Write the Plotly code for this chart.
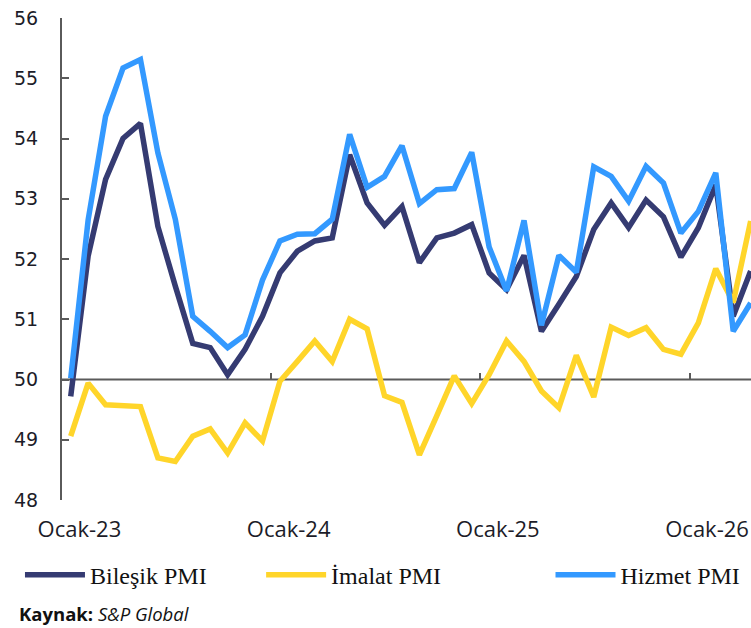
import plotly.graph_objects as go

tr_months = ["Ocak", "Şubat", "Mart", "Nisan", "Mayıs", "Haziran", "Temmuz",
             "Ağustos", "Eylül", "Ekim", "Kasım", "Aralık"]
months = [f"{tr_months[i % 12]}-{23 + i // 12}" for i in range(40)]

bilesik = [49.72, 52.05, 53.32, 54.00, 54.25, 52.54, 51.55, 50.60, 50.53, 50.08,
           50.50, 51.05, 51.77, 52.13, 52.30, 52.35, 53.73, 52.93, 52.56, 52.87,
           51.94, 52.35, 52.43, 52.57, 51.77, 51.49, 52.06, 50.80, 51.25, 51.71,
           52.49, 52.93, 52.52, 52.98, 52.70, 52.03, 52.52, 53.23, 51.05, 51.80]
imalat = [49.06, 49.94, 49.58, 49.57, 49.55, 48.70, 48.64, 49.06, 49.18, 48.78,
          49.28, 48.98, 49.97, 50.30, 50.64, 50.30, 51.00, 50.84, 49.73, 49.62,
          48.75, 49.40, 50.06, 49.60, 50.08, 50.64, 50.30, 49.81, 49.53, 50.40,
          49.71, 50.87, 50.73, 50.86, 50.50, 50.42, 50.94, 51.84, 51.28, 52.63]
hizmet = [50.02, 52.65, 54.37, 55.17, 55.31, 53.76, 52.66, 51.05, 50.80, 50.53,
          50.74, 51.65, 52.30, 52.41, 52.42, 52.66, 54.07, 53.19, 53.37, 53.88,
          52.92, 53.15, 53.17, 53.77, 52.20, 51.47, 52.64, 50.90, 52.06, 51.78,
          53.53, 53.37, 52.96, 53.54, 53.26, 52.43, 52.79, 53.43, 50.80, 51.27]

series_names = ["Bileşik PMI", "İmalat PMI", "Hizmet PMI"]
colors = ["#353B72", "#FFD52A", "#3399FF"]
y_ticks = [48, 49, 50, 51, 52, 53, 54, 55, 56]
ref_level = 50

x = list(range(len(months)))
ocak_idx = [i for i, m in enumerate(months) if m.startswith("Ocak")]

fig = go.Figure()
legends = ["legend", "legend2", "legend3"]
xaxes = ["x", "x", "x2"]
for name, vals, col, lg, xa in zip(series_names, [bilesik, imalat, hizmet], colors, legends, xaxes):
    fig.add_trace(go.Scatter(x=x, y=vals, name=name, mode="lines",
                             line=dict(color=col, width=5.5),
                             legend=lg, xaxis=xa, hoverinfo="skip"))

xr = [-0.5, len(months) - 0.98]
axis_col = "#5a5a5a"
fig.update_layout(
    width=751, height=628,
    margin=dict(l=62, r=0, t=18, b=128, autoexpand=False),
    paper_bgcolor="white", plot_bgcolor="white",
    xaxis=dict(range=xr, showgrid=False, zeroline=False, showline=False,
               automargin=False,
               tickvals=[i + 0.5 for i in ocak_idx],
               ticktext=[months[i] for i in ocak_idx],
               ticks="", ticklabelstandoff=14,
               tickfont=dict(family="Open Sans", size=22, color="#1c1c28")),
    xaxis2=dict(range=xr, overlaying="x", anchor="free", position=0.25,
                automargin=False,
                showgrid=False, zeroline=False, showline=False,
                tickvals=[i - 0.5 for i in ocak_idx], ticks="inside",
                ticklen=7, tickwidth=2, tickcolor=axis_col,
                showticklabels=False),
    yaxis=dict(range=[48, 56], tickvals=y_ticks, showgrid=False, zeroline=False,
               automargin=False,
               showline=True, linecolor=axis_col, linewidth=2,
               ticks="inside", ticklen=7, tickwidth=2, tickcolor=axis_col,
               ticklabelstandoff=18,
               tickfont=dict(family="DejaVu Sans", size=19, color="#1c1c28"),
               layer="below traces"),
    showlegend=True,
)

fig.add_shape(type="line", xref="paper", yref="y", x0=0, x1=1,
              y0=ref_level, y1=ref_level, layer="below",
              line=dict(color=axis_col, width=2))

leg_common = dict(orientation="h", yanchor="middle", y=-0.156, xanchor="left",
                  bgcolor="rgba(0,0,0,0)", itemwidth=60,
                  font=dict(family="Liberation Serif", size=24, color="#111111"))
fig.update_layout(
    legend=dict(x=-0.061, **leg_common),
    legend2=dict(x=0.289, **leg_common),
    legend3=dict(x=0.709, **leg_common),
)

fig.add_annotation(xref="paper", yref="paper", x=-0.0655, y=-0.2365,
                   xanchor="left", yanchor="middle", showarrow=False,
                   text="<b>Kaynak:</b> <i>S&P Global</i>",
                   font=dict(family="Open Sans", size=18.5, color="#111111"))

fig.write_html("out.html", config={"displayModeBar": False},
               post_script="document.body.style.margin='0';"
                           "document.body.style.overflow='hidden';")
